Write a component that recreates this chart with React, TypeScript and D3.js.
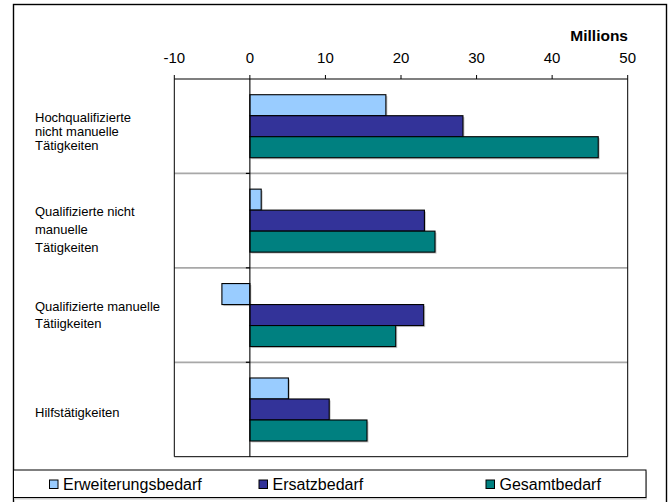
import React from "react";
import * as d3 from "d3";

// Categories (label lines) and series values in millions
const categories = ["hochqual", "qualNicht", "qualManuell", "hilfs"];
const categoryLines = [
  ["Hochqualifizierte", "nicht manuelle", "Tätigkeiten"],
  ["Qualifizierte nicht", "manuelle", "Tätigkeiten"],
  ["Qualifizierte manuelle", "Tätiigkeiten"],
  ["Hilfstätigkeiten"],
];
const seriesNames = ["Erweiterungsbedarf", "Ersatzbedarf", "Gesamtbedarf"];
const erweiterungsbedarf = [18.0, 1.5, -3.7, 5.1];
const ersatzbedarf = [28.2, 23.1, 23.0, 10.5];
const gesamtbedarf = [46.1, 24.5, 19.3, 15.5];
const tickValues = [-10, 0, 10, 20, 30, 40, 50];
const unitLabel = "Millions";

const seriesValues = [erweiterungsbedarf, ersatzbedarf, gesamtbedarf];
const colors = ["#99CCFF", "#333399", "#008080"];

const W = 671;
const H = 502;
const font = "'Liberation Sans', Arial, sans-serif";

// layout
const plot = { left: 174.3, right: 627.7, top: 79, bottom: 456.7 };
const groupHeight = 63;
// per-category label line spacing and vertical shift
const labelLineGap = [13.8, 18, 17.5, 16];
const labelShift = [5, 9, 0, 3];

export default function App() {
  const x = d3.scaleLinear().domain([-10, 50]).range([plot.left, plot.right]);
  const y = d3
    .scaleBand<string>()
    .domain(categories)
    .range([plot.top, plot.bottom])
    .paddingInner(0)
    .paddingOuter(0);
  const bw = y.bandwidth();
  const inner = d3
    .scaleBand<string>()
    .domain(seriesNames)
    .range([0, groupHeight])
    .padding(0);
  const barH = inner.bandwidth();
  const x0 = x(0);

  const legendX = [49.5, 259, 486];
  const legendY = 484.5;

  return (
    <svg
      width={W}
      height={H}
      style={{ position: "absolute", left: 0, top: 0, background: "#fff" }}
      fontFamily={font}
    >
      {/* outer frame */}
      <rect x={13.5} y={4.5} width={653} height={510} fill="none" stroke="#000" strokeWidth={1.4} />

      {/* unit label */}
      <text x={628} y={35.7} dy="0.35em" textAnchor="end" fontSize={15.5} fontWeight="bold" fill="#000">
        {unitLabel}
      </text>

      {/* value axis at the top */}
      {tickValues.map((t) => (
        <g key={t}>
          <text x={x(t)} y={58} dy="0.35em" textAnchor="middle" fontSize={15} fill="#000">
            {t}
          </text>
          <line x1={x(t)} x2={x(t)} y1={plot.top - 4} y2={plot.top} stroke="#000" strokeWidth={1} />
        </g>
      ))}
      <line x1={plot.left} x2={plot.right} y1={plot.top} y2={plot.top} stroke="#000" strokeWidth={1.2} />

      {/* category separators */}
      {categories.slice(1).map((c) => (
        <g key={c}>
          <line x1={plot.left} x2={plot.right} y1={y(c)!} y2={y(c)!} stroke="#a8a8a8" strokeWidth={1.8} />
          <line x1={x0 - 4} x2={x0} y1={y(c)!} y2={y(c)!} stroke="#000" strokeWidth={1.2} />
        </g>
      ))}

      {/* plot border */}
      <line x1={plot.left} x2={plot.left} y1={plot.top} y2={plot.bottom} stroke="#000" strokeWidth={1} />
      <line x1={plot.right} x2={plot.right} y1={plot.top} y2={plot.bottom} stroke="#000" strokeWidth={1} />
      <line x1={plot.left} x2={plot.right} y1={plot.bottom} y2={plot.bottom} stroke="#000" strokeWidth={1} />

      {/* bars */}
      {categories.map((c, ci) => {
        const gy = y(c)! + (bw - groupHeight) / 2;
        return (
          <g key={c}>
            {seriesNames.map((s, si) => {
              const v = seriesValues[si][ci];
              const bx = Math.min(x(v), x0);
              const w = Math.abs(x(v) - x0);
              const by = gy + inner(s)!;
              return (
                <g key={s}>
                  <rect x={bx + 1.5} y={by + 1.5} width={w} height={barH} fill="#9a9a9a" opacity={0.55} />
                  <rect x={bx} y={by} width={w} height={barH} fill={colors[si]} stroke="#000" strokeWidth={1.1} />
                </g>
              );
            })}
          </g>
        );
      })}

      {/* zero line */}
      <line x1={x0} x2={x0} y1={plot.top} y2={plot.bottom} stroke="#000" strokeWidth={1.1} />

      {/* category labels */}
      {categories.map((c, ci) => {
        const lines = categoryLines[ci];
        const gap = labelLineGap[ci];
        const center = y(c)! + bw / 2 + labelShift[ci];
        const start = center - ((lines.length - 1) * gap) / 2;
        return (
          <text key={c} fontSize={13} fill="#000">
            {lines.map((ln, li) => (
              <tspan key={li} x={35} y={start + li * gap} dy="0.35em">
                {ln}
              </tspan>
            ))}
          </text>
        );
      })}

      {/* legend */}
      <rect x={15} y={471.5} width={632} height={28} fill="#9a9a9a" opacity={0.5} />
      <rect x={13.5} y={470} width={632.5} height={27.5} fill="#fff" stroke="#000" strokeWidth={1} />
      {seriesNames.map((s, si) => (
        <g key={s}>
          <rect x={legendX[si]} y={legendY - 4.5} width={8.5} height={8.5} fill={colors[si]} stroke="#000" strokeWidth={1} />
          <text x={legendX[si] + 13.5} y={legendY} dy="0.35em" fontSize={16} fill="#000">
            {s}
          </text>
        </g>
      ))}
    </svg>
  );
}
